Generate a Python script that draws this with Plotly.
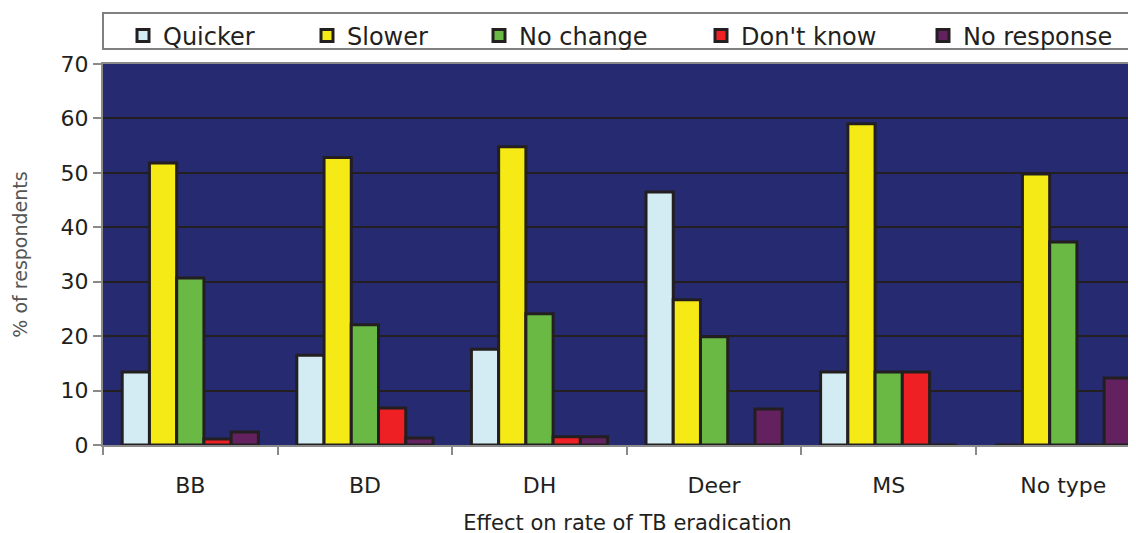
import plotly.graph_objects as go

categories = ["BB", "BD", "DH", "Deer", "MS", "No type"]
series_names = ["Quicker", "Slower", "No change", "Don't know", "No response"]
quicker = [13.4, 16.5, 17.6, 46.5, 13.4, 0]
slower = [51.8, 52.8, 54.8, 26.7, 59.0, 49.8]
no_change = [30.7, 22.1, 24.1, 19.9, 13.4, 37.3]
dont_know = [1.1, 6.8, 1.5, 0, 13.4, 0]
no_response = [2.4, 1.3, 1.5, 6.6, 0, 12.3]
y_ticks = [0, 10, 20, 30, 40, 50, 60, 70]

series_values = [quicker, slower, no_change, dont_know, no_response]
colors = ["#d3ecf3", "#f5e916", "#69b944", "#ee2024", "#632160"]
legend_x_px = [115, 299, 471, 693, 915]

W, H = 1144, 533
ML, MR, MT, MB = 95, 0, 56, 96
PW, PH = W - ML - MR, H - MT - MB

FONT = "DejaVu Sans, Liberation Sans, Arial, sans-serif"
TXT = "#231f20"

fig = go.Figure()
legend_layouts = {}
for i, (name, vals, col) in enumerate(zip(series_names, series_values, colors)):
    lname = "legend" if i == 0 else f"legend{i+1}"
    fig.add_trace(go.Bar(
        name=name, x=categories, y=vals,
        marker=dict(color=col, line=dict(color="#231f20", width=3)),
        legend=lname,
    ))
    legend_layouts[lname] = dict(
        x=legend_x_px[i] / W, xref="container", xanchor="left",
        y=1 - 28 / H, yref="container", yanchor="middle",
        orientation="h", bgcolor="rgba(0,0,0,0)", borderwidth=0,
        font=dict(family=FONT, size=24, color=TXT),
    )

fig.update_layout(
    width=W, height=H,
    margin=dict(l=ML, r=MR, t=MT, b=MB, autoexpand=False),
    paper_bgcolor="white",
    plot_bgcolor="#262a70",
    barmode="group",
    bargap=0.22,
    bargroupgap=0,
    showlegend=True,
    **legend_layouts,
    shapes=[dict(
        type="rect", xref="paper", yref="paper",
        x0=0, x1=1.02,
        y0=(H - MB - 41) / PH, y1=(H - MB - 5) / PH,
        line=dict(color="#808080", width=2), fillcolor="white", layer="below",
    )],
    xaxis=dict(
        range=[-0.5, -0.5 + PW / 174.6],
        automargin=False,
        showline=True, linecolor="#8a8a8a", linewidth=2, mirror=True,
        ticks="outside", tickson="boundaries", ticklen=8, tickcolor="#8a8a8a", tickwidth=2,
        tickfont=dict(family=FONT, size=22, color=TXT),
        ticklabelstandoff=20,
        title=dict(text="Effect on rate of TB eradication",
                   font=dict(family=FONT, size=21, color=TXT), standoff=18),
        showgrid=False, zeroline=False,
    ),
    yaxis=dict(
        range=[0, 70], tickvals=y_ticks,
        automargin=False,
        showline=True, linecolor="#8a8a8a", linewidth=2,
        ticks="outside", ticklen=8, tickcolor="#8a8a8a", tickwidth=2,
        tickfont=dict(family=FONT, size=22, color=TXT),
        showgrid=True, gridcolor="#231f20", gridwidth=2,
        zeroline=False,
        title=dict(text="% of respondents",
                   font=dict(family=FONT, size=19, color="#555555"), standoff=28),
    ),
)

fig.write_html("out.html")
